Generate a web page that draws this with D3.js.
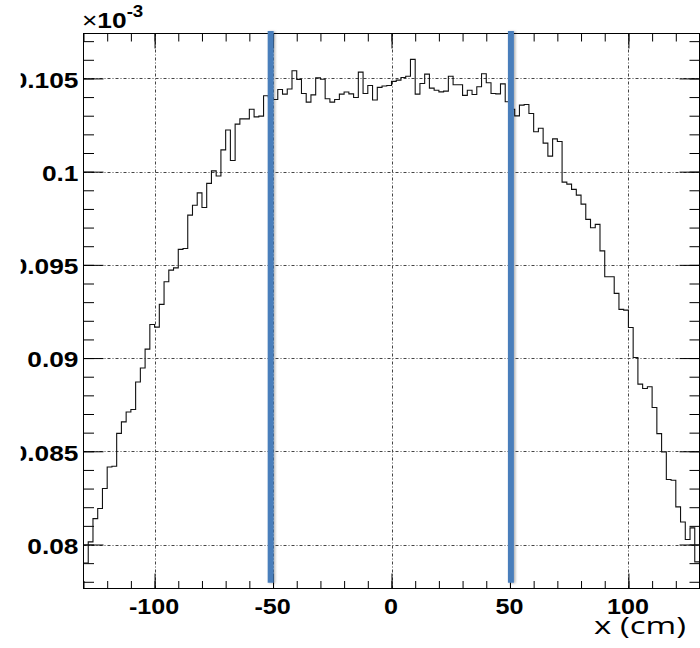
<!DOCTYPE html>
<html>
<head>
<meta charset="utf-8">
<script src="https://cdn.jsdelivr.net/npm/d3@7"></script>
<style>
  html, body { margin: 0; padding: 0; background: #fff; }
  svg { display: block; }
</style>
</head>
<body>
<svg id="chart" width="700" height="648"></svg>
<script>
// Histogram of x position: 2 cm bins from -130 to 130 cm (values in units of 10^-3)
const binStart = -130;
const binWidth = 2;
const binValues = [
  0.07901, 0.08014, 0.08139, 0.08193, 0.08300, 0.08416, 0.08420, 0.08596, 0.08658, 0.08711,
  0.08724, 0.08872, 0.08947, 0.09048, 0.09180, 0.09166, 0.09288, 0.09409, 0.09472, 0.09484,
  0.09583, 0.09588, 0.09767, 0.09820, 0.09886, 0.09808, 0.09937, 0.10004, 0.09977, 0.10117,
  0.10223, 0.10060, 0.10255, 0.10283, 0.10283, 0.10335, 0.10294, 0.10298, 0.10407, 0.10400,
  0.10387, 0.10441, 0.10416, 0.10443, 0.10541, 0.10495, 0.10419, 0.10373, 0.10412, 0.10503,
  0.10496, 0.10391, 0.10373, 0.10387, 0.10416, 0.10427, 0.10417, 0.10398, 0.10534, 0.10419,
  0.10462, 0.10384, 0.10452, 0.10459, 0.10462, 0.10484, 0.10491, 0.10505, 0.10512, 0.10602,
  0.10416, 0.10473, 0.10523, 0.10448, 0.10437, 0.10428, 0.10432, 0.10512, 0.10466, 0.10466,
  0.10409, 0.10437, 0.10414, 0.10455, 0.10525, 0.10477, 0.10419, 0.10417, 0.10471, 0.10375,
  0.10334, 0.10299, 0.10357, 0.10360, 0.10312, 0.10214, 0.10233, 0.10153, 0.10083, 0.10176,
  0.10162, 0.09944, 0.09933, 0.09905, 0.09874, 0.09826, 0.09744, 0.09699, 0.09717, 0.09575,
  0.09436, 0.09436, 0.09347, 0.09261, 0.09257, 0.09164, 0.09003, 0.08860, 0.08837, 0.08846,
  0.08735, 0.08595, 0.08497, 0.08349, 0.08345, 0.08202, 0.08121, 0.08027, 0.08089, 0.07907
];

// Axis ranges and ticks
const xDomain = [-130, 130];
const yDomain = [0.07764, 0.10741];
const xMajorTicks = [-100, -50, 0, 50, 100];
const xMajorLabels = ["-100", "-50", "0", "50", "100"];
const xMinorTicks = d3.range(-130, 131, 10);
const yMajorTicks = [0.08, 0.085, 0.09, 0.095, 0.1, 0.105];
const yMajorLabels = ["0.08", "0.085", "0.09", "0.095", "0.1", "0.105"];
const yMinorTicks = d3.range(78, 108, 1).map(d => d / 1000);

// Fiducial cut positions (cm) and their vertical extent
const cutPositions = [-51, 50.4];
const cutExtent = [0.07795, 0.10755];

const xTitle = "x (cm)";
const exponentBase = "10";
const exponentPower = "-3";

// Frame
const frame = { left: 83.5, right: 699.5, top: 33.5, bottom: 588.5 };

const svg = d3.select("#chart");
const defs = svg.append("defs");
const x = d3.scaleLinear().domain(xDomain).range([frame.left, frame.right]);
const y = d3.scaleLinear().domain(yDomain).range([frame.bottom, frame.top]);

const labelFont = "'Liberation Sans', Arial, Helvetica, sans-serif";
const stretch = 1.17;

// Grid
const grid = svg.append("g").attr("stroke", "#444").attr("stroke-width", 1)
  .attr("stroke-dasharray", "3,2,1,2").attr("fill", "none");
grid.selectAll("line.gx").data(xMajorTicks).join("line")
  .attr("x1", d => Math.round(x(d)) + 0.5).attr("x2", d => Math.round(x(d)) + 0.5)
  .attr("y1", frame.top).attr("y2", frame.bottom);
grid.selectAll("line.gy").data(yMajorTicks).join("line")
  .attr("y1", d => Math.round(y(d)) + 0.5).attr("y2", d => Math.round(y(d)) + 0.5)
  .attr("x1", frame.left).attr("x2", frame.right);

// Ticks with d3 axes (inward-pointing)
function styleAxis(g) {
  g.select(".domain").remove();
  g.selectAll(".tick line").attr("stroke", "#000").attr("stroke-width", 1);
  g.selectAll(".tick text").remove();
}
svg.append("g").attr("transform", `translate(0,${frame.bottom})`)
  .call(d3.axisBottom(x).tickValues(xMinorTicks).tickSize(-7.5).tickFormat("")).call(styleAxis);
svg.append("g").attr("transform", `translate(0,${frame.bottom})`)
  .call(d3.axisBottom(x).tickValues(xMajorTicks).tickSize(-15).tickFormat("")).call(styleAxis);
svg.append("g").attr("transform", `translate(0,${frame.top})`)
  .call(d3.axisTop(x).tickValues(xMinorTicks).tickSize(-8).tickFormat("")).call(styleAxis);
svg.append("g").attr("transform", `translate(0,${frame.top})`)
  .call(d3.axisTop(x).tickValues(xMajorTicks).tickSize(-15).tickFormat("")).call(styleAxis);
svg.append("g").attr("transform", `translate(${frame.left},0)`)
  .call(d3.axisLeft(y).tickValues(yMinorTicks).tickSize(-10.5).tickFormat("")).call(styleAxis);
svg.append("g").attr("transform", `translate(${frame.left},0)`)
  .call(d3.axisLeft(y).tickValues(yMajorTicks).tickSize(-20).tickFormat("")).call(styleAxis);
svg.append("g").attr("transform", `translate(${frame.right},0)`)
  .call(d3.axisRight(y).tickValues(yMinorTicks).tickSize(-10).tickFormat("")).call(styleAxis);
svg.append("g").attr("transform", `translate(${frame.right},0)`)
  .call(d3.axisRight(y).tickValues(yMajorTicks).tickSize(-20).tickFormat("")).call(styleAxis);

// Histogram outline (step line)
const pts = binValues.map((v, i) => [binStart + i * binWidth, v]);
pts.push([binStart + binValues.length * binWidth, binValues[binValues.length - 1]]);
const step = d3.line().x(d => x(d[0])).y(d => y(d[1])).curve(d3.curveStepAfter);
svg.append("path").datum(pts)
  .attr("d", step).attr("fill", "none").attr("stroke", "#111").attr("stroke-width", 1.1);

// Frame
svg.append("rect")
  .attr("x", frame.left).attr("y", frame.top)
  .attr("width", frame.right - frame.left).attr("height", frame.bottom - frame.top)
  .attr("fill", "none").attr("stroke", "#000").attr("stroke-width", 1);

// Cut lines with a soft shadow
const f = defs.append("filter").attr("id", "shadow")
  .attr("filterUnits", "userSpaceOnUse")
  .attr("x", 0).attr("y", 0).attr("width", 700).attr("height", 648);
f.append("feDropShadow").attr("dx", 1.5).attr("dy", 0.5).attr("stdDeviation", 1)
  .attr("flood-color", "#000").attr("flood-opacity", 0.3);
svg.append("g").attr("filter", "url(#shadow)")
  .selectAll("line").data(cutPositions).join("line")
  .attr("x1", d => x(d)).attr("x2", d => x(d))
  .attr("y1", y(cutExtent[1])).attr("y2", y(cutExtent[0]))
  .attr("stroke", "#4a7ebb").attr("stroke-width", 6);

// Tick labels
defs.append("clipPath").attr("id", "leftclip")
  .append("rect").attr("x", 20.7).attr("y", 0).attr("width", 700).attr("height", 648);
const yl = svg.append("g").attr("clip-path", "url(#leftclip)");
yl.selectAll("text").data(yMajorTicks).join("text")
  .attr("transform", d => `translate(78.5,${y(d) + 9.4}) scale(${stretch},1)`)
  .attr("text-anchor", "end")
  .attr("font-family", labelFont).attr("font-weight", "bold").attr("font-size", 22.5)
  .attr("fill", "#000")
  .text((d, i) => yMajorLabels[i]);

svg.append("g").selectAll("text").data(xMajorTicks).join("text")
  .attr("transform", d => `translate(${x(d) - 0.5},613.5) scale(${stretch},1)`)
  .attr("text-anchor", "middle")
  .attr("font-family", labelFont).attr("font-weight", "bold").attr("font-size", 21.5)
  .attr("fill", "#000")
  .text((d, i) => xMajorLabels[i]);

// Exponent label
const ex = svg.append("text")
  .attr("transform", `translate(82,28.3) scale(${stretch},1)`)
  .attr("font-family", labelFont).attr("font-size", 22.5).attr("fill", "#000");
ex.append("tspan").attr("font-weight", "normal").text("\u00d7");
ex.append("tspan").attr("font-weight", "bold").text(exponentBase);
ex.append("tspan").attr("font-weight", "bold").attr("font-size", 16).attr("dy", -11.6).text(exponentPower);

// Axis title
svg.append("text")
  .attr("x", 594).attr("y", 633.5)
  .attr("font-family", "'Open Sans', 'Noto Sans', sans-serif").attr("font-size", 23)
  .attr("textLength", 92).attr("lengthAdjust", "spacingAndGlyphs")
  .attr("fill", "#000")
  .text(xTitle);
</script>
</body>
</html>
